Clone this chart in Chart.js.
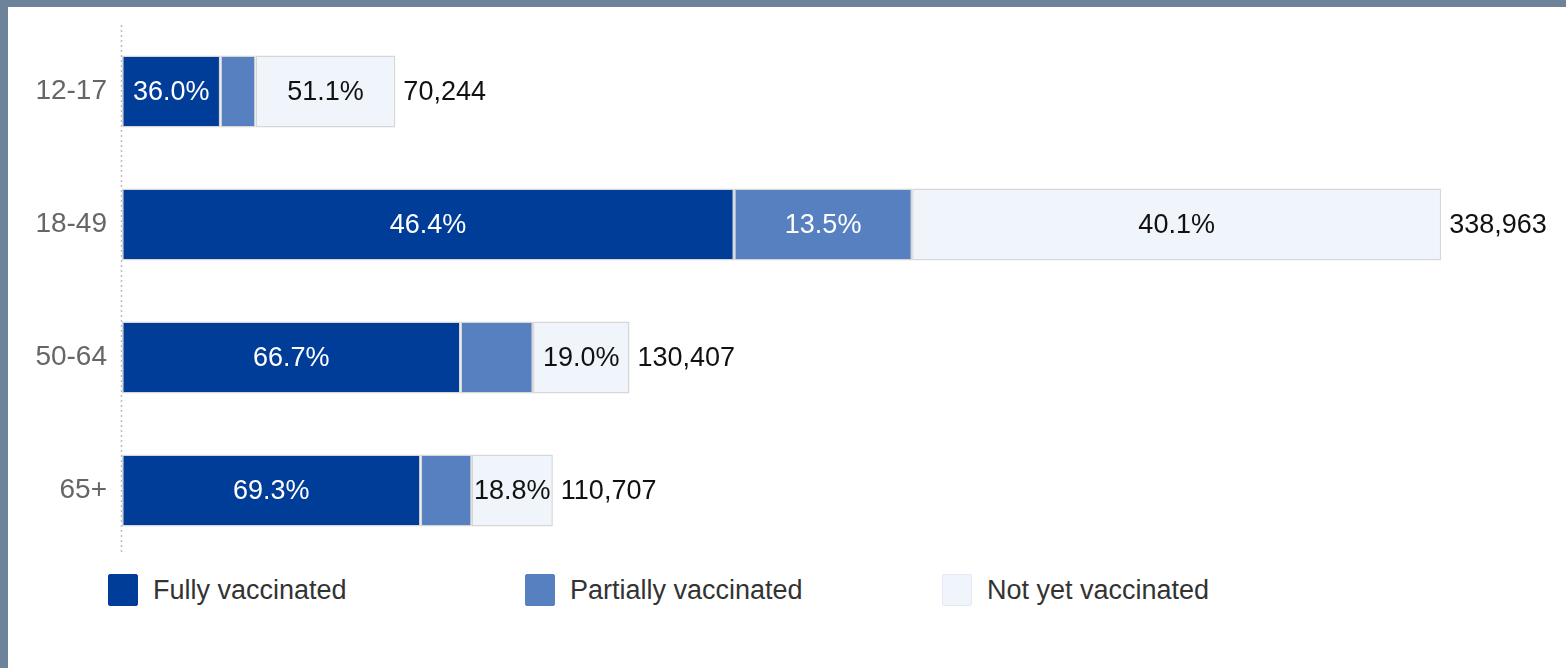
<!DOCTYPE html>
<html lang="en">
  <head>
    <meta charset="UTF-8" />
    <title>Vaccination status by age group</title>
    <script src="https://cdn.jsdelivr.net/npm/chart.js"></script>
    <style>
      html, body {
        margin: 0;
        padding: 0;
      }
      body {
        width: 1566px;
        height: 668px;
        background-color: #6d8399;
        position: relative;
        overflow: hidden;
        font-family: "Liberation Sans", Arial, sans-serif;
      }
      .panel {
        position: absolute;
        left: 8px;
        top: 7px;
        right: 0;
        bottom: 0;
        background: #fff;
      }
      .chart-box {
        position: absolute;
        left: 0;
        top: 0;
        width: 1558px;
        height: 550px;
      }
      .legend {
        position: absolute;
        top: 566px;
        left: 0;
        height: 34px;
      }
      .legend-item {
        position: absolute;
        top: 0;
        white-space: nowrap;
        font-size: 27px;
        color: #333;
        line-height: 34px;
      }
      .legend-item span.box {
        display: inline-block;
        width: 30px;
        height: 32px;
        border-radius: 2px;
        vertical-align: middle;
        margin-right: 15px;
        margin-top: -4px;
        box-sizing: border-box;
      }
    </style>
  </head>
  <body>
    <div class="panel">
      <div class="chart-box">
        <canvas id="vaxChart"></canvas>
      </div>
      <div class="legend" id="legend"></div>
    </div>

    <script>
      // data
      const ageGroups = ["12-17", "18-49", "50-64", "65+"];
      const totals = [70244, 338963, 130407, 110707];
      const fullyPct = [36.0, 46.4, 66.7, 69.3];
      const partialPct = [12.9, 13.5, 14.3, 11.9];
      const notYetPct = [51.1, 40.1, 19.0, 18.8];
      const seriesNames = ["Fully vaccinated", "Partially vaccinated", "Not yet vaccinated"];

      const colors = ["#003d99", "#5680bf", "#f0f4fb"];
      const labelColors = ["#ffffff", "#ffffff", "#111111"];
      const fontFamily = '"Liberation Sans", Arial, sans-serif';

      // bar length = people in that status
      function toCounts(pcts) {
        return pcts.map((p, i) => (totals[i] * p) / 100);
      }

      // dotted axis line on the left of the bars
      const dottedAxis = {
        id: "dottedAxis",
        beforeDatasetsDraw(chart) {
          const { ctx, chartArea } = chart;
          const x = Math.round(chartArea.left) - 0.5;
          ctx.save();
          ctx.strokeStyle = "#bdbdbd";
          ctx.lineWidth = 1.5;
          ctx.setLineDash([2, 3]);
          ctx.beginPath();
          ctx.moveTo(x, chartArea.top);
          ctx.lineTo(x, chartArea.bottom - 2);
          ctx.stroke();
          ctx.restore();
        },
      };

      const segmentLabels = {
        id: "segmentLabels",
        afterDatasetsDraw(chart) {
          const ctx = chart.ctx;
          ctx.save();
          ctx.font = "27px " + fontFamily;
          ctx.textBaseline = "middle";
          chart.data.datasets.forEach((ds, di) => {
            const meta = chart.getDatasetMeta(di);
            meta.data.forEach((bar, i) => {
              const width = Math.abs(bar.x - bar.base);
              // small segments get no label
              if (width < 76) return;
              ctx.fillStyle = ds.labelColor;
              ctx.textAlign = "center";
              ctx.fillText(ds.pct[i].toFixed(1) + "%", (bar.x + bar.base) / 2, bar.y + 1);
            });
          });
          // totals after the end of each bar
          const lastMeta = chart.getDatasetMeta(chart.data.datasets.length - 1);
          lastMeta.data.forEach((bar, i) => {
            ctx.fillStyle = "#111";
            ctx.textAlign = "left";
            ctx.fillText(totals[i].toLocaleString("en-US"), bar.x + 8, bar.y + 1);
          });
          ctx.restore();
        },
      };

      const pctLists = [fullyPct, partialPct, notYetPct];

      const ctxVax = document.getElementById("vaxChart").getContext("2d");
      const vaxChart = new Chart(ctxVax, {
        type: "bar",
        data: {
          labels: ageGroups,
          datasets: seriesNames.map((name, k) => ({
            label: name,
            data: toCounts(pctLists[k]),
            pct: pctLists[k],
            labelColor: labelColors[k],
            backgroundColor: colors[k],
            borderColor: "#d6d6d6",
            borderWidth: 1.5,
            borderSkipped: false,
            barPercentage: 0.54,
            categoryPercentage: 1,
          })),
        },
        options: {
          indexAxis: "y",
          responsive: true,
          maintainAspectRatio: false,
          animation: false,
          layout: {
            padding: { top: 18, right: 43, bottom: 0, left: 0 },
          },
          scales: {
            x: {
              stacked: true,
              display: false,
              min: 0,
              max: 360000,
            },
            y: {
              stacked: true,
              grid: { display: false, drawTicks: false },
              border: { display: false },
              ticks: {
                color: "#666",
                padding: 15,
                font: { size: 28, family: fontFamily },
              },
              afterFit(scale) {
                scale.width = 114;
                // labels sit inside their bands, no extra room needed
                scale.paddingTop = 0;
                scale.paddingBottom = 0;
              },
            },
          },
          plugins: {
            legend: { display: false },
            tooltip: { enabled: false },
          },
        },
        plugins: [dottedAxis, segmentLabels],
      });

      // legend below the chart
      const legendLeft = [100, 517, 934];
      const legend = document.getElementById("legend");
      seriesNames.forEach((name, k) => {
        const item = document.createElement("div");
        item.className = "legend-item";
        item.style.left = legendLeft[k] + "px";
        const box = document.createElement("span");
        box.className = "box";
        box.style.background = colors[k];
        box.style.border = "1px solid " + (k === 2 ? "#e4e8f0" : colors[k]);
        item.appendChild(box);
        item.appendChild(document.createTextNode(name));
        legend.appendChild(item);
      });
    </script>
  </body>
</html>
